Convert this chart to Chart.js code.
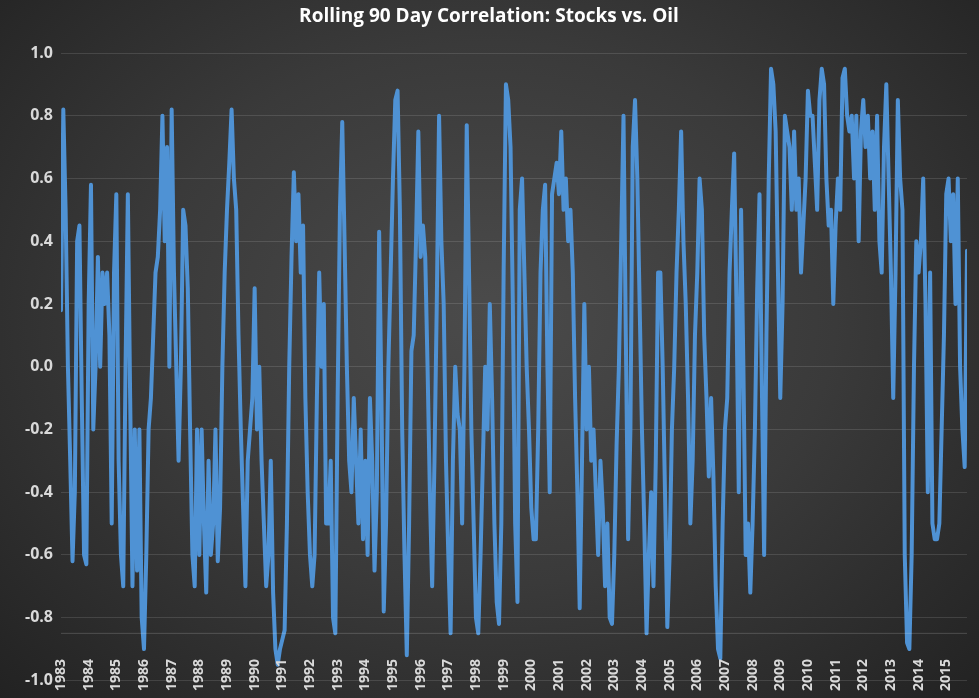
<!DOCTYPE html>
<html>
<head>
<meta charset="utf-8">
<script src="https://cdn.jsdelivr.net/npm/chart.js@4"></script>
<style>
  html, body { margin: 0; padding: 0; }
  body { width: 979px; height: 698px; background: radial-gradient(ellipse at 50% 45%, #4b4b4b 0%, #3a3a3a 50%, #222 100%); }
  #wrap { position: relative; width: 979px; height: 698px; }
</style>
</head>
<body>
<div id="wrap"><canvas id="c"></canvas></div>
<script>
const title = 'Rolling 90 Day Correlation: Stocks vs. Oil';
const years = [1983,1984,1985,1986,1987,1988,1989,1990,1991,1992,1993,1994,1995,1996,1997,1998,1999,2000,2001,2002,2003,2004,2005,2006,2007,2008,2009,2010,2011,2012,2013,2014,2015];
const yTicks = [1.0,0.8,0.6,0.4,0.2,0.0,-0.2,-0.4,-0.6,-0.8,-1.0];

// correlation readings, roughly monthly, one list per year
const corr = {
  1983: [0.18,0.82,0.5,0.0,-0.3,-0.62,-0.4,0.4,0.45,-0.1,-0.6,-0.63],
  1984: [0.2,0.58,-0.2,0.0,0.35,0.0,0.3,0.2,0.3,0.1,-0.5,0.3],
  1985: [0.55,-0.3,-0.6,-0.7,0.0,0.55,-0.1,-0.7,-0.2,-0.65,-0.2,-0.8],
  1986: [-0.9,-0.6,-0.2,-0.1,0.1,0.3,0.35,0.5,0.8,0.4,0.7,0.0],
  1987: [0.82,0.3,0.0,-0.3,0.0,0.5,0.45,0.25,-0.2,-0.6,-0.7,-0.2],
  1988: [-0.6,-0.2,-0.5,-0.72,-0.3,-0.6,-0.5,-0.2,-0.62,-0.45,0.0,0.3],
  1989: [0.5,0.65,0.82,0.6,0.5,0.1,-0.2,-0.45,-0.7,-0.3,-0.2,-0.1],
  1990: [0.25,-0.2,0.0,-0.3,-0.5,-0.7,-0.6,-0.3,-0.72,-0.9,-0.95,-0.9],
  1991: [-0.87,-0.84,-0.5,0.0,0.35,0.62,0.4,0.55,0.3,0.45,-0.1,-0.4],
  1992: [-0.6,-0.7,-0.6,-0.1,0.3,0.0,0.2,-0.5,-0.5,-0.3,-0.8,-0.85],
  1993: [-0.1,0.5,0.78,0.4,0.0,-0.3,-0.4,-0.1,-0.3,-0.5,-0.2,-0.55],
  1994: [-0.3,-0.6,-0.1,-0.3,-0.65,-0.4,0.43,-0.1,-0.78,-0.5,0.0,0.3],
  1995: [0.6,0.85,0.88,0.5,-0.2,-0.6,-0.92,-0.5,0.05,0.1,0.4,0.75],
  1996: [0.35,0.45,0.35,0.0,-0.4,-0.7,-0.3,0.2,0.8,0.4,0.2,-0.3],
  1997: [-0.6,-0.85,-0.3,0.0,-0.15,-0.2,-0.5,0.0,0.77,0.3,-0.2,-0.5],
  1998: [-0.8,-0.85,-0.6,-0.3,0.0,-0.2,0.2,-0.1,-0.5,-0.75,-0.82,-0.5],
  1999: [0.3,0.9,0.85,0.7,0.2,-0.5,-0.75,0.5,0.6,0.3,0.0,-0.2],
  2000: [-0.45,-0.55,-0.55,-0.2,0.3,0.5,0.58,0.0,-0.4,0.55,0.6,0.65],
  2001: [0.55,0.75,0.5,0.6,0.4,0.5,0.3,-0.1,-0.4,-0.77,-0.3,0.2],
  2002: [-0.2,0.0,-0.3,-0.2,-0.4,-0.6,-0.3,-0.45,-0.7,-0.5,-0.8,-0.82],
  2003: [-0.6,-0.25,0.0,0.4,0.8,0.1,-0.55,-0.2,0.7,0.85,0.6,0.2],
  2004: [-0.2,-0.5,-0.85,-0.6,-0.4,-0.7,-0.3,0.3,0.3,0.0,-0.4,-0.83],
  2005: [-0.6,-0.2,0.0,0.3,0.5,0.75,0.4,0.2,-0.1,-0.5,-0.3,0.1],
  2006: [0.3,0.6,0.5,0.1,-0.1,-0.35,-0.1,-0.35,-0.7,-0.9,-0.93,-0.5],
  2007: [-0.2,-0.1,0.3,0.5,0.68,0.2,-0.4,0.5,0.0,-0.6,-0.5,-0.72],
  2008: [-0.5,-0.2,0.25,0.55,-0.05,-0.6,0.1,0.6,0.95,0.9,0.75,0.3],
  2009: [-0.1,0.2,0.8,0.75,0.7,0.5,0.75,0.5,0.6,0.3,0.45,0.6],
  2010: [0.88,0.8,0.8,0.65,0.5,0.85,0.95,0.9,0.6,0.45,0.5,0.2],
  2011: [0.45,0.6,0.5,0.92,0.95,0.8,0.75,0.8,0.6,0.8,0.4,0.75],
  2012: [0.85,0.7,0.8,0.6,0.75,0.5,0.8,0.4,0.3,0.7,0.9,0.6],
  2013: [0.3,-0.1,0.3,0.85,0.6,0.5,-0.6,-0.88,-0.9,-0.6,0.0,0.4],
  2014: [0.3,0.4,0.6,0.2,-0.4,0.3,-0.5,-0.55,-0.55,-0.5,-0.2,0.1],
  2015: [0.55,0.6,0.4,0.55,0.2,0.6,0.0,-0.2,-0.32,0.37]
};

const points = [];
years.forEach(y => corr[y].forEach((v, i) => points.push({ x: y + i / 12, y: v })));

const overlay = {
  id: 'overlay',
  afterDraw(chart) {
    const { ctx, scales } = chart;
    ctx.save();
    ctx.fillStyle = '#ffffff';
    ctx.font = 'bold 19px "Open Sans", sans-serif';
    ctx.textAlign = 'center';
    ctx.textBaseline = 'middle';
    ctx.fillText(title, 489, 17);

    // x axis line
    const ay = scales.y.getPixelForValue(-0.85);
    ctx.strokeStyle = 'rgba(255,255,255,0.18)';
    ctx.lineWidth = 1;
    ctx.beginPath();
    ctx.moveTo(chart.chartArea.left, ay);
    ctx.lineTo(chart.chartArea.right, ay);
    ctx.stroke();

    ctx.fillStyle = '#d9d9d9';
    ctx.font = 'bold 14px "Open Sans", sans-serif';
    ctx.textAlign = 'left';
    years.forEach(y => {
      ctx.save();
      ctx.translate(scales.x.getPixelForValue(y), 691);
      ctx.rotate(-Math.PI / 2);
      ctx.fillText(String(y), 0, 0);
      ctx.restore();
    });
    ctx.restore();
  }
};

new Chart(document.getElementById('c'), {
  type: 'line',
  data: {
    datasets: [{
      data: points,
      borderColor: '#4f92d4',
      borderWidth: 4,
      borderJoinStyle: 'round',
      borderCapStyle: 'round',
      pointRadius: 0,
      tension: 0,
      fill: false
    }]
  },
  options: {
    responsive: true,
    maintainAspectRatio: false,
    animation: false,
    layout: { padding: { top: 53, bottom: 12, right: 12, left: 0 } },
    plugins: { legend: { display: false }, tooltip: { enabled: false } },
    scales: {
      x: { type: 'linear', min: 1983, max: 2015.75, display: false },
      y: {
        min: -1, max: 1,
        afterFit(s) { s.width = 61; },
        afterBuildTicks(s) { s.ticks = yTicks.map(v => ({ value: v })); },
        border: { display: false },
        grid: { color: 'rgba(255,255,255,0.12)', drawTicks: false },
        ticks: {
          color: '#d9d9d9',
          font: { size: 16, weight: 'bold', family: '"Open Sans", sans-serif' },
          padding: 8,
          callback: v => v.toFixed(1)
        }
      }
    }
  },
  plugins: [overlay]
});
</script>
</body>
</html>
